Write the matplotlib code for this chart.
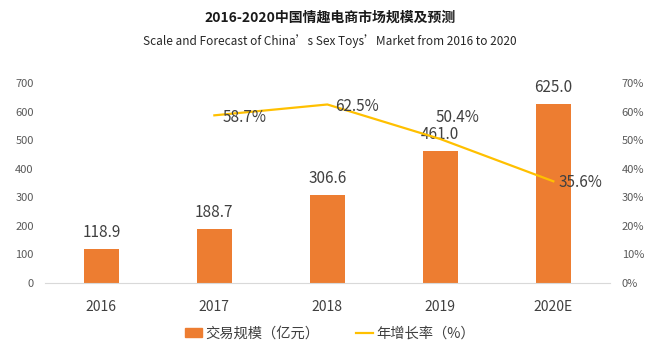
import matplotlib
matplotlib.use("Agg")
import matplotlib.pyplot as plt
from matplotlib.lines import Line2D
from matplotlib.patches import Patch

plt.rcParams['font.family'] = ['Noto Sans CJK SC', 'DejaVu Sans']

years = ['2016', '2017', '2018', '2019', '2020E']
scale = [118.9, 188.7, 306.6, 461.0, 625.0]
growth_years = ['2017', '2018', '2019', '2020E']
growth = [58.7, 62.5, 50.4, 35.6]
left_ticks = [0, 100, 200, 300, 400, 500, 600, 700]
right_ticks = [0, 10, 20, 30, 40, 50, 60, 70]

bar_color = '#ED7D31'
line_color = '#FFC000'
tick_color = '#595959'
label_color = '#404040'

fig = plt.figure(figsize=(6.6, 3.55), dpi=100)
ax = fig.add_axes([0.068, 0.203, 0.856, 0.563])
ax2 = ax.twinx()

x = list(range(len(years)))
ax.bar(x, scale, width=0.31, color=bar_color, zorder=2)
for xi, v in zip(x, scale):
    ax.text(xi, v + 28, f'{v:.1f}', ha='center', va='bottom', fontsize=11, color=label_color)

gx = [years.index(y) for y in growth_years]
ax2.plot(gx, growth, color=line_color, lw=1.6, zorder=3)
# label placement offsets (x in category units, y in % units)
offsets = [(0.07, -0.6, 'left'), (0.07, -0.6, 'left'), (0.15, 7.4, 'center'), (0.05, -0.5, 'left')]
for xi, v, (dx, dy, ha) in zip(gx, growth, offsets):
    ax2.text(xi + dx, v + dy, f'{v:.1f}%', ha=ha, va='center', fontsize=11, color=label_color, zorder=4)

ax.set_xlim(-0.5, 4.5)
ax.set_ylim(0, 700)
ax2.set_ylim(0, 70)
ax.set_yticks(left_ticks)
ax.set_yticklabels([str(t) for t in left_ticks])
ax2.set_yticks(right_ticks)
ax2.set_yticklabels([f'{t}%' for t in right_ticks])
ax.set_xticks(x)
ax.set_xticklabels(years)

for a in (ax, ax2):
    for s in a.spines.values():
        s.set_visible(False)
ax.spines['bottom'].set_visible(True)
ax.spines['bottom'].set_color('#D9D9D9')
ax.tick_params(axis='y', length=0, labelsize=8, labelcolor=tick_color, pad=8)
ax2.tick_params(axis='y', length=0, labelsize=8, labelcolor=tick_color, pad=8.5)
ax.tick_params(axis='x', length=0, labelsize=10, labelcolor=label_color, pad=12)

fig.text(0.5, 0.950, '2016-2020中国情趣电商市场规模及预测', ha='center', va='center',
         fontsize=10, fontweight='bold', color='#1a1a1a')
fig.text(0.5, 0.884, 'Scale and Forecast of China’s Sex Toys’Market from 2016 to 2020',
         ha='center', va='center', fontsize=8.5, color='#262626')

handles = [Patch(color=bar_color), Line2D([0], [0], color=line_color, lw=1.6)]
fig.legend(handles, ['交易规模（亿元）', '年增长率（%）'], loc='center', bbox_to_anchor=(0.5, 0.060),
           ncol=2, frameon=False, fontsize=10.3, handlelength=1.2, handleheight=0.65,
           columnspacing=2.6, handletextpad=0.2, labelcolor=label_color)

fig.savefig('out.png', dpi=100)
